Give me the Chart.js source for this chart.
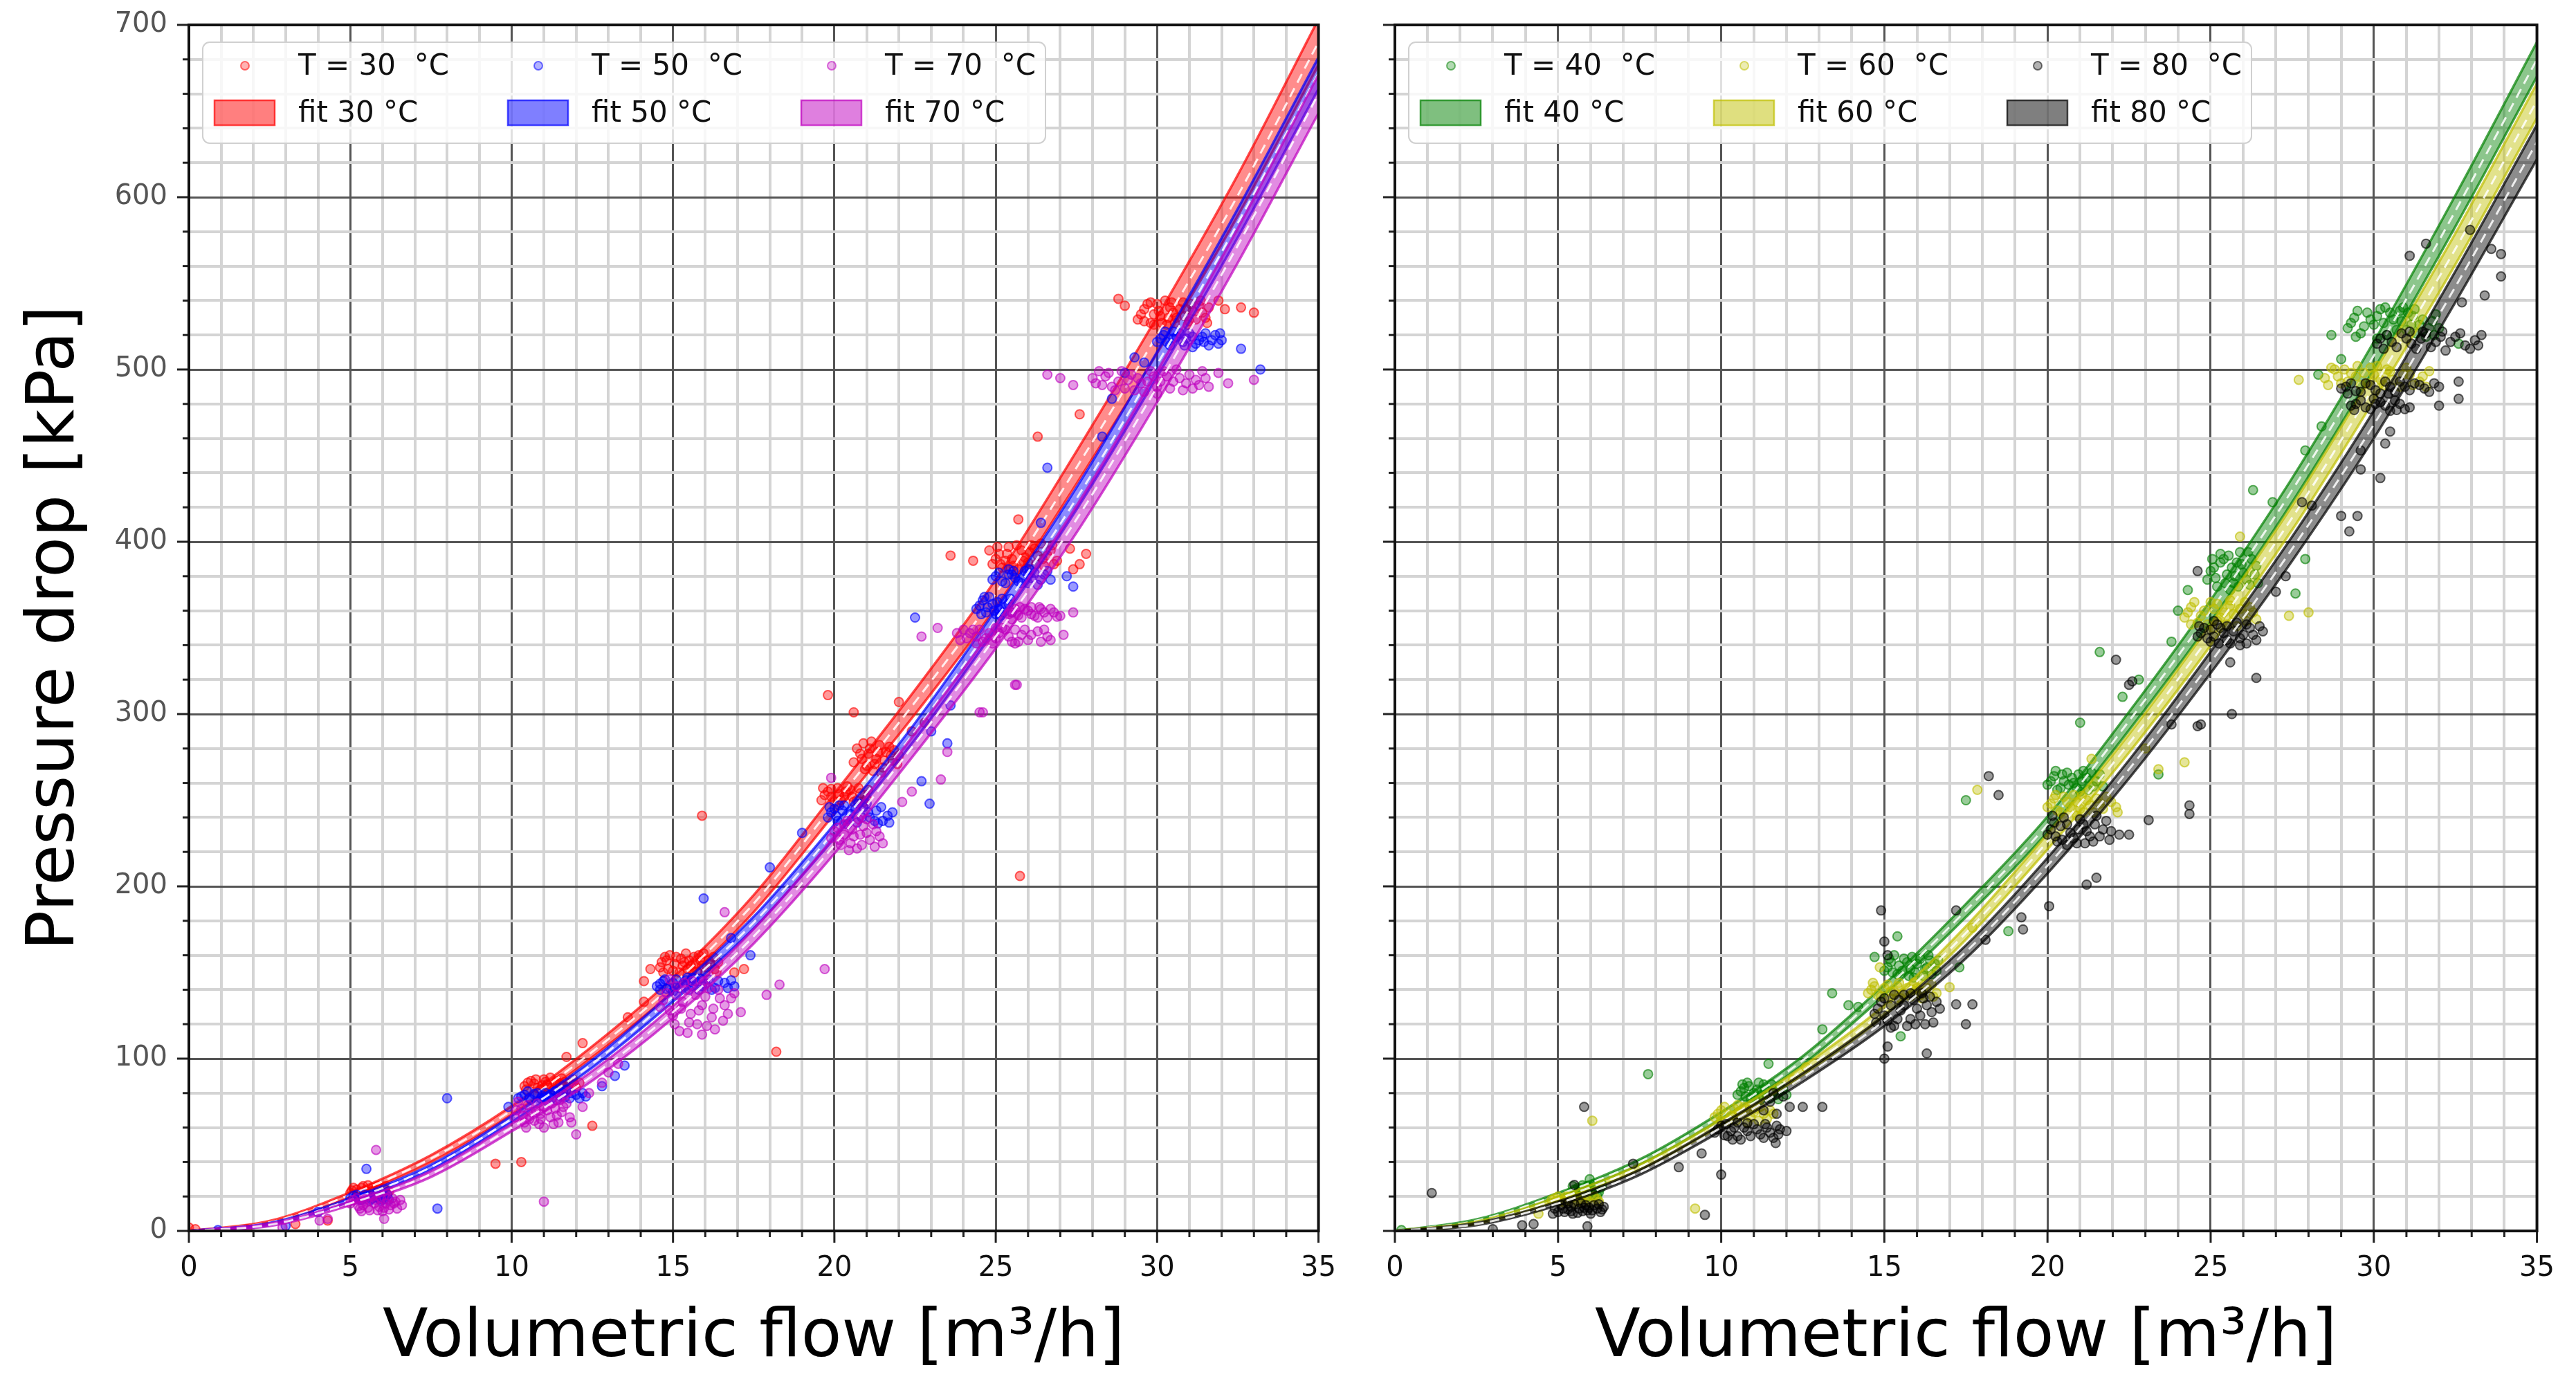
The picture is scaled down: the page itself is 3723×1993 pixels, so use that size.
<!DOCTYPE html>
<html>
<head>
<meta charset="utf-8">
<script src="https://cdn.jsdelivr.net/npm/chart.js@4.4.0/dist/chart.umd.min.js"></script>
<style>
  html, body { margin: 0; padding: 0; background: #fff; }
  #left { position: absolute; left: 0; top: 0; }
  #right { position: absolute; left: 1962px; top: 0; }
</style>
</head>
<body>
<canvas id="left" width="1962" height="1993"></canvas>
<canvas id="right" width="1761" height="1993"></canvas>
<script>
Chart.defaults.font.family = "'DejaVu Sans', sans-serif";
Chart.defaults.color = '#111';

// flow values where the fitted curves were read
const flowGrid = [0, 2.5, 5, 7.5, 10, 12.5, 15, 17.5, 20, 22.5, 25, 27.5, 30, 32.5, 35];

// fitted pressure drop [kPa] and half width of the band
const fit30 = [0, 5, 21, 42, 70, 104, 143, 190, 248, 307, 370, 443, 520, 601, 690];
const ci30  = [0, 0.8, 1.4, 2, 2.5, 3.2, 4, 4.9, 5.9, 7, 8.1, 9.4, 10.6, 11.9, 13.3];
const fit50 = [0, 4, 18, 37, 65, 97, 136, 179, 232, 290, 355, 425, 503, 585, 672];
const ci50  = [0, 0.6, 1, 1.4, 1.8, 2.2, 2.8, 3.4, 4.1, 4.8, 5.6, 6.4, 7.3, 8.3, 9.2];
const fit70 = [0, 3.5, 16, 33, 60, 90, 127, 171, 224, 283, 345, 413, 490, 572, 660];
const ci70  = [0, 0.7, 1.1, 1.7, 2.2, 2.8, 3.5, 4.2, 5, 5.9, 6.9, 7.8, 9, 10, 11.2];
const fit40 = [0, 6, 21, 40, 67, 99, 140, 186, 236, 296, 360, 430, 508, 592, 680];
const ci40  = [0, 0.7, 1.1, 1.5, 2, 2.5, 3.1, 3.8, 4.5, 5.3, 6.2, 7, 8, 9, 10];
const fit60 = [0, 4.7, 18.7, 37, 63, 93, 128, 173, 226, 283, 346, 414, 490, 570, 656];
const ci60  = [0, 0.7, 1.1, 1.5, 2, 2.5, 3.1, 3.8, 4.5, 5.3, 6.2, 7, 8, 9, 10];
const fit80 = [0, 4, 16, 34, 60, 89, 122, 162, 212, 268, 330, 396, 468, 548, 632];
const ci80  = [0, 0.7, 1.1, 1.5, 2, 2.5, 3.1, 3.8, 4.5, 5.3, 6.2, 7, 8, 9, 10];

// measured points [flow, pressure drop]
const t30 = [[0,2],[0.2,1],[1.8,1],[3.3,4],[4.3,6],
  [5.0,22],[5.2,24],[5.3,21],[5.4,26],[5.5,23],[5.6,20],[5.7,25],[5.8,22],[5.9,24],[6.0,21],[6.1,26],[5.1,25],[5.45,22],[5.65,23],[5.85,26],[6.2,23],[5.25,20.5],[5.75,21],
  [5.05,23.5],[5.35,25],[5.55,26.5],[5.95,22],[6.05,24.5],[5.15,21],[5.8,19.5],[6.15,21.5],
  [10.4,84],[10.6,87],[10.8,83],[11.0,88],[11.1,85],[11.3,82],[11.4,87],[11.6,84],[11.8,86],[12.0,83],[10.7,85.5],[11.2,89],[11.5,85.5],[11.9,88],[10.9,82],
  [10.5,86],[10.75,88],[10.95,84.5],[11.15,83],[11.35,86],[11.55,88.5],[11.75,82.5],[11.95,85],[11.05,86.5],[11.65,86.5],[10.45,82],[12.1,86],
  [9.5,39],[10.3,40],[12.5,61],[12.2,109],[11.7,101],[13.6,124],[14.1,133],[14.1,145],[14.3,152],[18.2,104],
  [14.6,153],[14.8,157],[15.0,151],[15.1,159],[15.3,154],[15.5,157],[15.6,151],[15.8,160],[15.9,154],[16.1,157],[16.3,152],[14.9,160],[15.4,161],[15.7,155],[16.0,150],[15.2,150],[16.4,156],[14.7,150],
  [14.65,156],[14.85,152],[15.05,155],[15.25,158],[15.45,152],[15.65,159],[15.85,157],[16.05,153],[16.25,159],[14.75,159],[15.35,156],[15.75,150.5],[16.15,155],[15.55,154],[15.95,161],[16.35,150.5],
  [16.9,150],[17.2,152],[15.9,241],
  [19.6,250],[19.8,255],[20.0,249],[20.1,257],[20.3,252],[20.5,256],[20.6,249],[20.8,254],[21.0,251],[19.9,252],[20.4,258],[20.7,250],
  [19.7,253],[19.9,256.5],[20.2,250],[20.35,255],[20.55,252],[20.75,257],[20.95,253],[20.15,253.5],[19.65,257],[20.9,249],[21.05,256],
  [20.6,272],[20.8,277],[21.0,270],[21.1,280],[21.3,274],[21.5,269],[21.6,278],[21.8,273],[22.0,276],[20.9,283],[21.4,282],[21.2,267],[21.7,281],
  [20.7,280],[20.85,274],[21.05,277],[21.25,271],[21.35,278],[21.55,273],[21.75,276],[21.95,271],[21.15,284],[20.95,268],[21.45,266],[21.85,279],
  [19.8,311],[20.6,301],[22.0,307],[25.75,206],[22.4,290],[22.8,295],
  [24.9,387],[25.1,393],[25.2,385],[25.4,397],[25.5,390],[25.7,384],[25.8,395],[26.0,388],[26.1,398],[26.3,392],[26.5,386],[26.7,395],[26.9,389],[25.3,389],[25.9,391],[26.4,399],[24.8,395],
  [25.0,390],[25.15,387],[25.35,393],[25.55,386],[25.65,398],[25.85,389],[26.05,394],[26.25,387],[26.45,390],[26.6,392],[26.8,387],[26.2,396],[25.45,384],[25.95,384.5],[25.05,397],[26.75,398],
  [27.3,396],[27.6,387],[27.8,393],[27.4,384],[23.6,392],[24.3,389],[25.7,413],[26.3,461],[27.6,474],
  [29.4,529],[29.6,535],[29.8,527],[30.0,538],[30.1,531],[30.3,526],[30.4,536],[30.6,530],[30.8,539],[31.0,528],[31.1,534],[31.3,537],[31.5,530],[29.9,532],[30.5,533],[30.9,535],
  [29.5,532],[29.7,538],[29.9,526],[30.05,534],[30.25,540],[30.35,530],[30.55,527],[30.7,535],[30.85,531],[31.05,538],[31.2,529],[31.4,533],[31.6,536],[29.6,528],[30.15,527],[30.95,526],[31.35,540],[29.8,539],[30.45,539],[31.55,527],
  [32.1,535],[32.6,536],[33.0,533],[31.9,540],[29.0,537],[28.8,541]];

const t50 = [[0.9,0.5],[3.0,3],[4.0,11],[5.5,36],[7.7,13],[8.0,77],
  [5.0,19],[5.2,21],[5.3,18],[5.5,20],[5.6,17.5],[5.8,21],[5.9,18.5],[6.1,20],[6.2,18],[5.4,19.5],[5.7,19],[6.0,21.5],
  [5.1,20.5],[5.35,18],[5.45,21],[5.65,18.5],[5.85,20],[6.05,18.5],[6.15,21],[5.25,19],[5.75,20.5],[5.95,17.5],
  [10.2,77],[10.4,79],[10.6,76],[10.8,80],[11.0,77.5],[11.2,79],[11.4,76],[11.6,80],[11.8,77],[12.0,79],[12.3,78],[10.5,81],[11.1,75.5],[11.7,82],
  [10.3,78],[10.55,77],[10.7,79.5],[10.9,77],[11.05,80],[11.25,77],[11.45,79.5],[11.65,77.5],[11.85,80],[12.1,77],[12.2,80],[10.95,78.5],[11.35,81],[11.55,78],
  [12.8,84],[13.2,90],[13.5,96],[9.9,72],
  [14.5,142],[14.7,145],[14.9,141],[15.1,146],[15.3,143],[15.5,140],[15.7,145],[15.9,142],[16.1,146],[16.3,141],[16.6,144],[16.9,142],[15.0,139],[15.6,147],[14.6,140],
  [14.6,143.5],[14.8,140.5],[15.0,144],[15.2,141],[15.4,145.5],[15.6,142],[15.8,140],[16.0,143.5],[16.2,140],[16.4,145],[16.7,141],[16.8,145.5],[15.45,147],[15.85,146.5],[14.75,146],
  [15.95,193],[18.0,211],[19.0,231],[17.4,160],[16.8,170],
  [19.8,240],[20.0,245],[20.1,238],[20.3,247],[20.5,242],[20.7,237],[20.9,246],[21.1,240],[21.3,244],[21.5,238],[21.8,243],[20.4,236],[21.0,248],[19.9,243],
  [19.85,246],[20.05,241],[20.25,244],[20.45,239],[20.65,245],[20.85,240],[21.05,243],[21.25,238],[21.45,246],[21.65,241],[21.7,237],[20.15,247],[20.75,248],[21.35,236.5],
  [22.95,248],[22.7,261],[23.5,283],[22.5,356],[23.0,290],[23.6,305],
  [24.9,378],[25.1,382],[25.3,376],[25.5,381],[25.7,377],[25.9,383],[26.1,379],[26.3,375],[26.5,381],[26.7,378],[25.4,384],[26.0,376],
  [25.0,380],[25.2,377],[25.4,381],[25.6,379],[25.8,376],[26.0,381],[26.2,382],[26.4,378],[26.6,383],[25.55,383],[26.05,384],
  [24.4,361],[24.6,366],[24.7,359],[24.9,364],[25.0,358],[25.2,367],[25.3,362],[25.5,359],[24.8,368],[25.1,361],
  [24.5,363],[24.55,358],[24.75,362],[24.95,360],[25.05,365],[25.25,359],[25.4,364],[25.45,367],[24.65,368],[25.15,357],
  [26.4,411],[26.6,443],[28.3,461],[28.6,483],[27.2,380],[27.4,374],
  [30.0,516],[30.2,520],[30.4,514],[30.6,519],[30.8,516],[31.0,521],[31.2,515],[31.4,519],[31.6,514],[31.8,520],[32.0,517],[30.5,522],[31.1,513],
  [30.1,518],[30.3,516],[30.5,518],[30.7,521],[30.9,518],[31.1,519],[31.3,517],[31.5,521],[31.7,517],[31.9,515],[30.25,522],[30.85,514],[31.45,516],[31.95,521],
  [29.3,507],[29.6,504],[32.6,512],[33.2,500],[29.0,498]];

const t70 = [[2.9,2],[4.05,6],[4.3,7],[5.8,47],[6.05,7],[11.0,17],
  [5.0,16],[5.2,19],[5.3,13],[5.5,17],[5.6,12],[5.8,18],[5.9,14],[6.1,16],[6.2,12.5],[6.4,17],[6.6,15],[5.4,15],[5.7,20],[6.0,11.5],[6.3,19],
  [5.1,18],[5.25,14.5],[5.45,18.5],[5.55,13.5],[5.75,16],[5.95,19],[6.05,13.5],[6.25,15],[6.45,13],[6.55,18],[5.35,11.5],[5.85,12],[6.15,18.5],[6.35,16],
  [10.1,66],[10.3,71],[10.4,63],[10.6,69],[10.8,74],[10.9,65],[11.1,70],[11.3,62],[11.4,67],[11.6,72],[11.8,66],[10.2,75],[11.0,60],[10.7,64],[11.5,76],
  [10.15,70],[10.35,67],[10.5,73],[10.55,65],[10.75,70],[10.85,62],[11.0,72],[11.2,66],[11.25,74],[11.45,63],[11.55,69],[11.7,74],[11.85,63],[10.45,60],[10.9,68],[11.35,71],
  [12.2,72],[12.4,80],[12.8,86],[13.0,92],[13.3,97],[12.0,56],
  [14.6,130],[14.8,138],[15.0,125],[15.1,142],[15.3,133],[15.5,121],[15.6,145],[15.8,128],[16.0,136],[16.2,124],[16.4,140],[16.6,131],[16.9,138],[17.1,127],[15.2,116],[15.9,114],[14.9,146],[16.3,117],
  [14.7,134],[14.9,128],[15.1,137],[15.25,129],[15.4,140],[15.55,126],[15.7,137],[15.9,131],[16.1,141],[16.25,129],[16.45,135],[16.7,126],[16.8,135],[15.05,120],[15.45,115],[15.75,120],[16.05,119],[16.55,122],[15.35,144],[15.95,145],
  [17.9,137],[19.7,152],[16.6,185],[18.3,143],
  [19.9,228],[20.1,234],[20.2,224],[20.4,238],[20.6,229],[20.7,222],[20.9,235],[21.1,227],[21.3,232],[21.5,225],[20.3,230],[21.0,239],
  [20.0,232],[20.15,227],[20.3,236],[20.5,225],[20.55,233],[20.8,230],[20.85,224],[21.0,231],[21.2,236],[21.25,223],[21.4,229],[20.45,221],[20.75,239],
  [19.9,263],[23.3,262],[23.5,278],[24.6,301],[25.65,317],[22.1,249],[22.4,255],
  [25.4,358],[25.6,361],[25.8,356],[26.0,360],[26.2,357],[26.4,361],[26.6,356],[26.8,359],[27.0,357],[25.5,355],[26.1,362],
  [25.5,359],[25.7,357.5],[25.9,361],[26.1,358],[26.3,356],[26.5,359],[26.7,361],[26.9,356.5],[25.75,362],[26.35,362],
  [23.8,347],[24.1,344],[24.3,349],[24.6,342],[24.8,347],[25.0,344],[25.3,349],[25.5,342],[25.8,346],[26.0,343],[26.3,348],[26.6,345],[24.4,341],[25.2,350],
  [23.9,343],[24.2,347],[24.4,345],[24.5,349],[24.7,344],[24.9,341],[25.1,347],[25.4,345],[25.6,349],[25.7,342],[25.9,349],[26.1,346],[26.4,342],[26.5,349],[26.7,343],[24.0,349],[25.0,350],[25.6,341],
  [22.7,345],[23.2,350],[27.4,359],[27.1,346],[25.6,317],[24.5,301],
  [28.0,495],[28.3,491],[28.5,498],[28.8,493],[29.0,489],[29.2,497],[29.5,492],[29.8,499],[30.0,490],[30.3,496],[30.5,493],[30.8,488],[31.0,497],[31.3,491],[31.5,495],[29.6,487],[30.6,500],
  [28.1,492],[28.4,496],[28.6,490],[28.9,499],[29.1,494],[29.3,488],[29.4,495],[29.7,493],[29.9,496],[30.1,493],[30.2,499],[30.4,489],[30.7,495],[30.9,492],[31.1,489],[31.2,494],[31.4,499],[28.2,499],[28.7,488],[30.0,486],[31.6,490],
  [27.0,495],[26.6,497],[27.4,491],[33.0,494],[32.2,492],[31.9,498]];

const t40 = [[0.2,0.5],[5.97,30],[7.76,91],
  [5.4,22],[5.6,25],[5.7,21],[5.9,26],[6.0,23],[6.2,20.5],[6.3,25],[5.5,24],[5.8,22.5],[6.1,27],[5.9,20],
  [5.5,21],[5.65,23],[5.75,26.5],[5.85,24],[6.05,21],[6.15,24],[6.25,22.5],[6.35,27],[5.45,26],[5.95,25],
  [10.5,79],[10.7,83],[10.9,77],[11.1,82],[11.3,85],[11.4,78],[11.6,81],[11.8,84],[12.0,79],[11.2,76],[10.8,86],
  [10.6,81],[10.75,78],[10.85,84],[11.0,80],[11.15,86],[11.25,79],[11.35,82],[11.5,77],[11.55,85],[11.7,79],[11.9,82],[10.65,85],[11.05,77],[11.75,76.5],
  [11.45,97],[13.1,117],[13.4,138],[13.9,131],[14.7,159],[15.4,171],[15.5,113],[14.2,130],
  [15.0,151],[15.2,156],[15.4,149],[15.6,158],[15.8,152],[16.0,155],[16.2,148],[16.4,157],[16.6,151],[15.3,160],[15.9,147],[16.3,153],
  [15.1,153],[15.25,150],[15.45,154],[15.55,151],[15.7,156],[15.85,159],[15.95,150],[16.1,158],[16.25,152],[16.45,149],[16.55,155],[15.15,158],[15.75,148],[16.35,160],[16.65,157],
  [17.3,153],[17.5,250],[18.8,174],
  [20.0,259],[20.2,264],[20.4,257],[20.6,266],[20.8,260],[21.0,255],[21.2,263],[21.4,258],[21.6,265],[20.5,261],[21.1,267],
  [20.1,261],[20.3,256],[20.45,265],[20.65,259],[20.75,263],[20.9,257],[21.05,261],[21.25,256],[21.35,266],[21.5,261],[21.7,258],[20.25,267],[20.95,265],
  [21.0,295],[21.6,336],[23.4,265],[23.8,342],[22.3,310],[22.8,320],
  [24.9,378],[25.1,385],[25.2,374],[25.4,390],[25.5,381],[25.7,376],[25.8,388],[26.0,382],[26.2,375],[26.4,386],[25.3,393],[25.9,394],[25.6,372],
  [25.0,383],[25.15,379],[25.3,388],[25.45,376],[25.55,392],[25.65,385],[25.75,380],[25.95,387],[26.1,378],[26.25,390],[26.35,381],[25.05,390],[25.85,374],[26.15,394],[26.45,376],
  [24.3,372],[26.3,430],[26.9,423],[27.9,453],[28.4,467],[27.9,390],[27.6,370],[24.0,360],
  [29.2,524],[29.4,530],[29.6,521],[29.8,533],[30.0,526],[30.2,535],[30.4,520],[30.6,529],[30.8,534],[31.0,523],[31.2,531],[31.4,526],[31.6,519],[31.8,528],[32.0,524],[30.1,518],[30.9,536],
  [29.3,527],[29.5,534],[29.7,525],[29.9,529],[30.1,531],[30.3,527],[30.5,533],[30.7,523],[30.85,528],[31.05,533],[31.15,526],[31.3,521],[31.5,529],[31.7,524],[31.9,532],[29.45,519],[30.35,536],[31.25,535],[31.85,520],
  [28.7,520],[29.0,506],[28.3,497],[32.6,515]];

const t60 = [[4.4,10],[9.2,13],[6.05,64],
  [4.8,18],[5.0,20],[5.2,16.5],[5.4,19],[5.6,17],[5.8,20.5],[6.0,16],[6.2,18.5],[5.1,17.5],[5.7,18.5],
  [4.9,19],[5.05,17],[5.3,18],[5.45,16],[5.55,20],[5.75,16.5],[5.9,18],[6.1,20],[6.25,17],[5.25,20],
  [9.8,66],[10.0,70],[10.2,64],[10.4,71],[10.6,67],[10.8,63],[11.0,69],[11.2,72],[11.4,65],[11.6,68],[10.5,73],
  [9.9,68],[10.1,72],[10.3,67],[10.45,64],[10.55,69],[10.7,72],[10.9,66],[11.05,71],[11.15,64],[11.3,68],[11.5,70],[10.0,64],[10.85,70.5],
  [12.2,88],[12.6,95],
  [14.5,138],[14.7,142],[14.9,136],[15.1,143],[15.3,139],[15.5,135],[15.7,141],[15.9,144],[16.1,137],[16.3,141],[16.6,138],[15.2,135],
  [14.6,140],[14.8,137],[15.0,141],[15.2,139],[15.4,142],[15.6,138],[15.8,136],[16.0,141],[16.2,139],[16.45,143],[16.5,136],[14.65,144],[15.45,144],[15.85,140],[16.15,135],
  [14.86,153],[17.0,141.5],[17.7,176],[17.85,256],
  [20.0,246],[20.2,251],[20.4,243],[20.6,249],[20.8,253],[21.0,245],[21.2,250],[21.4,243],[21.6,248],[21.8,252],[22.1,246],[20.9,241],
  [20.1,248],[20.3,244],[20.5,252],[20.7,246],[20.9,249],[21.1,243],[21.3,247],[21.5,251],[21.7,245],[21.95,249],[22.15,243],[20.25,253],[21.05,252.5],
  [21.35,274],[23.4,268],[24.2,272],[23.0,280],
  [24.2,356],[24.4,362],[24.6,353],[24.8,360],[25.0,365],[25.2,354],[25.4,359],[25.6,363],[25.8,351],[26.0,358],[26.2,362],[26.4,355],[25.1,350],
  [24.3,359],[24.5,365],[24.7,357],[24.9,352],[25.1,361],[25.3,356],[25.5,352],[25.7,358],[25.9,361],[26.1,354],[26.3,359],[24.4,352],[25.2,364],[26.05,365],[25.6,366],
  [25.9,403],[27.4,357],[28.0,359],[27.7,494],
  [28.5,495],[28.8,500],[29.0,492],[29.3,498],[29.6,491],[29.9,501],[30.2,494],[30.5,499],[30.8,490],[31.1,497],[31.4,493],[31.7,499],[29.5,502],
  [28.6,491],[28.9,496],[29.1,500],[29.2,493],[29.45,496],[29.7,498],[29.8,492],[30.0,497],[30.3,491],[30.4,500],[30.6,494],[30.9,497],[31.0,501],[31.2,491],[31.5,496],[31.6,490],[28.7,501],[30.1,502]];

const t80 = [[1.13,22],[3.0,1],[3.9,3.3],[4.25,4],[5.9,2.7],[4.84,10],[5.5,26.7],[5.8,72],[7.3,39],[8.7,37],[9.4,45],[9.5,9.3],[10.0,32.7],
  [4.9,13],[5.1,15],[5.2,11],[5.4,14],[5.6,10.5],[5.7,16],[5.9,12],[6.1,15],[6.3,11],[5.3,16],[5.8,13.5],[6.0,10],[6.4,14],
  [5.0,11],[5.15,13],[5.3,12.5],[5.45,10],[5.5,15.5],[5.65,13],[5.75,11.5],[5.85,15],[5.95,13.5],[6.05,12],[6.2,13],[6.25,15.5],[6.35,12.5],[5.4,11.5],
  [9.8,57],[10.0,61],[10.2,55],[10.4,60],[10.6,53],[10.8,58],[11.0,62],[11.2,56],[11.4,60],[11.6,54],[11.8,59],[10.5,63],
  [9.9,59],[10.1,55.5],[10.3,58],[10.5,55],[10.7,60],[10.9,55],[11.1,59],[11.3,54],[11.5,57],[11.7,61],[11.75,56],[10.15,62],[10.8,62.5],[11.35,62],[10.35,53],
  [11.3,70],[11.5,75],[11.7,68],[11.9,78],[12.1,72],[11.6,80],
  [11.67,51],[12.0,58],[13.1,72],[12.5,72],[15.0,100],[15.1,107],[16.3,103],[14.9,186],[15.0,168],[15.1,160],
  [14.7,126],[14.9,133],[15.1,122],[15.3,137],[15.5,128],[15.7,119],[15.9,134],[16.1,125],[16.3,131],[16.5,121],[16.7,129],[15.2,118],[15.8,138],[16.4,136],
  [14.8,129],[15.0,135],[15.0,125],[15.2,131],[15.4,123],[15.45,134],[15.6,131],[15.8,123],[16.0,129],[16.2,135],[16.25,120],[16.45,127],[16.6,133],[15.6,137],[15.95,120],[15.3,119],[14.75,121],[16.15,138],
  [17.2,131.5],[17.7,131.5],[17.5,120],[17.2,186],[18.1,169],[19.2,182],[19.25,175],[20.05,188.5],[18.2,264],[18.5,253],
  [20.0,230],[20.2,237],[20.3,226],[20.5,240],[20.7,231],[20.9,225],[21.1,236],[21.3,229],[21.5,241],[21.7,233],[21.9,227],[20.6,224],
  [20.1,233],[20.25,229],[20.4,235],[20.45,227],[20.6,236],[20.8,228],[20.95,233],[21.0,239],[21.2,232],[21.4,226],[21.45,236],[21.6,229],[21.8,238],[21.95,232],[20.15,241],[21.15,225],
  [21.2,201],[21.5,205],[22.2,230],[22.5,230],[23.1,238.5],[24.35,247],[24.35,242],[22.1,331.5],[22.5,317],[24.6,293],[22.6,319],[23.8,294],[24.7,294],[25.65,300],[26.4,321],[25.6,330],
  [24.6,345],[24.8,350],[25.0,342],[25.2,352],[25.4,347],[25.6,341],[25.8,353],[26.0,346],[26.2,350],[26.4,343],[26.6,348],[25.1,354],[25.9,340],
  [24.7,347],[24.9,344],[25.0,349],[25.1,345],[25.3,350],[25.5,343],[25.5,351],[25.7,348],[25.9,344],[26.1,352],[26.3,346],[26.5,351],[24.65,351],[25.25,341],[26.1,341],
  [24.6,383],[27.0,371],[27.3,380],[27.8,423],[28.1,421],[29.0,415],[29.5,415],[29.25,406],
  [30.1,515],[30.4,520],[30.7,513],[31.0,518],[31.3,512],[31.6,521],[31.9,516],[32.2,511],[32.5,519],[32.8,514],[33.1,517],[31.1,522],
  [30.2,518],[30.55,516],[30.85,521],[31.15,515],[31.45,518],[31.75,513],[32.05,519],[32.35,516],[32.65,521],[32.95,512],[30.3,512],[31.5,522],[32.1,522],[33.2,514],
  [29.0,489],[29.3,492],[29.6,487],[29.9,491],[30.2,486],[30.5,490],[30.8,493],[31.1,488],[31.4,491],[31.7,487],[32.0,490],
  [29.15,490],[29.45,487.5],[29.75,492],[30.05,488],[30.35,493],[30.65,487],[30.95,490],[31.25,492],[31.55,489],[31.85,492],[29.2,486],[30.45,486],
  [29.3,479],[29.6,482],[29.9,477],[30.2,481],[30.5,476],[30.8,480],[31.1,478],[30.0,483],
  [29.45,480],[29.75,478],[30.05,480],[30.35,479],[30.65,482],[30.95,477],[29.4,476.5],[30.7,476.5],
  [31.1,566],[31.6,573],[32.95,581],[33.6,570],[33.9,567],[33.9,554],[33.4,543],[32.7,539],[33.3,520],[32.6,493],[32.6,483],[32.0,479],[30.5,464],[30.35,457],[30.2,437],[29.6,453],[29.6,442]];

const RED = [255, 0, 0], BLUE = [0, 0, 255], MAGENTA = [191, 0, 191];
const GREEN = [0, 128, 0], YELLOW = [191, 191, 0], BLACK = [0, 0, 0];

const rgba = (c, a) => `rgba(${c[0]},${c[1]},${c[2]},${a})`;
const pts = arr => arr.map(([x, y]) => ({x, y}));

function scatterSet(label, c, data, order) {
  return {
    label, data: pts(data), order, legendRow: 0, rgb: c,
    pointRadius: 6.5, pointBorderWidth: 2,
    backgroundColor: rgba(c, 0.4), borderColor: rgba(c, 0.62)
  };
}

function fitSets(label, c, fit, ci, order) {
  const up = flowGrid.map((q, i) => ({x: q, y: fit[i] + ci[i]}));
  const lo = flowGrid.map((q, i) => ({x: q, y: fit[i] - ci[i]}));
  const mid = flowGrid.map((q, i) => ({x: q, y: fit[i]}));
  const line = {type: 'line', pointRadius: 0, showLine: true, cubicInterpolationMode: 'monotone'};
  return [
    {...line, label, data: up, order, legendRow: 1, rgb: c,
      borderColor: rgba(c, 0.7), borderWidth: 3.5, backgroundColor: rgba(c, 0.5), fill: false},
    {...line, data: lo, order,
      borderColor: rgba(c, 0.7), borderWidth: 3.5, backgroundColor: rgba(c, 0.45), fill: '-1'},
    {...line, data: mid, order: order - 0.5,
      borderColor: 'rgba(255,255,255,0.85)', borderWidth: 3, borderDash: [14, 9], fill: false}
  ];
}

// outer frame and tick marks (long on the major ticks, short on the minor ones)
const frame = {
  id: 'frame',
  afterDraw(chart) {
    const {ctx, chartArea: a, scales: {x, y}} = chart;
    ctx.save();
    ctx.strokeStyle = '#222';
    ctx.lineWidth = 3;
    x.ticks.forEach(t => {
      const px = x.getPixelForValue(t.value);
      const len = t.value % 5 === 0 ? 17 : 9;
      ctx.beginPath(); ctx.moveTo(px, a.bottom); ctx.lineTo(px, a.bottom + len); ctx.stroke();
    });
    y.ticks.forEach(t => {
      const py = y.getPixelForValue(t.value);
      const len = t.value % 100 === 0 ? 17 : 9;
      ctx.beginPath(); ctx.moveTo(a.left, py); ctx.lineTo(a.left - len, py); ctx.stroke();
    });
    ctx.lineWidth = 4;
    ctx.strokeStyle = '#111';
    ctx.strokeRect(a.left, a.top, a.right - a.left, a.bottom - a.top);
    ctx.restore();
  }
};

// legend box inside the plot, 3 columns x 2 rows
const boxLegend = {
  id: 'boxLegend',
  afterDraw(chart) {
    const {ctx, chartArea: a} = chart;
    const x0 = a.left + 20, y0 = a.top + 25, w = 1218, h = 146;
    ctx.save();
    ctx.beginPath();
    if (ctx.roundRect) ctx.roundRect(x0, y0, w, h, 10); else ctx.rect(x0, y0, w, h);
    ctx.fillStyle = 'rgba(255,255,255,0.82)';
    ctx.fill();
    ctx.strokeStyle = '#d0d0d0';
    ctx.lineWidth = 2;
    ctx.stroke();
    ctx.font = "42px 'DejaVu Sans'";
    ctx.textBaseline = 'middle';
    const cols = [0, 0];
    chart.data.datasets.forEach(d => {
      if (d.legendRow === undefined) return;
      const row = d.legendRow, col = cols[row]++;
      const cx = x0 + col * 424, cy = y0 + (row ? 102 : 34);
      if (row === 0) {
        ctx.beginPath();
        ctx.arc(cx + 61, cy, 6, 0, Math.PI * 2);
        ctx.fillStyle = rgba(d.rgb, 0.3); ctx.fill();
        ctx.strokeStyle = rgba(d.rgb, 0.55); ctx.lineWidth = 2; ctx.stroke();
      } else {
        ctx.fillStyle = rgba(d.rgb, 0.5);
        ctx.fillRect(cx + 17, cy - 18, 87, 36);
        ctx.strokeStyle = rgba(d.rgb, 0.7); ctx.lineWidth = 2.5;
        ctx.strokeRect(cx + 17, cy - 18, 87, 36);
      }
      ctx.fillStyle = '#111';
      ctx.fillText(d.label, cx + 138, cy + 2);
    });
    ctx.restore();
  }
};

function makeScales(showY) {
  const majorX = c => c.tick && c.tick.value % 5 === 0;
  const majorY = c => c.tick && c.tick.value % 100 === 0;
  return {
    x: {
      type: 'linear', min: 0, max: 35,
      border: {display: false},
      grid: {color: c => majorX(c) ? '#555' : '#d4d4d4', lineWidth: c => majorX(c) ? 3 : 4, drawTicks: false},
      ticks: {stepSize: 1, maxTicksLimit: 100, autoSkip: false, maxRotation: 0, padding: 31,
        font: {size: 40}, color: '#111', callback: v => v % 5 === 0 ? v : ''},
      title: {display: true, text: 'Volumetric flow [m³/h]', font: {size: 96}, color: '#000', padding: 0},
      afterFit: s => { s.height = 214; }
    },
    y: {
      type: 'linear', min: 0, max: 700,
      border: {display: false},
      // invisible tick length keeps the labels clear of the drawn ticks
      grid: {color: c => majorY(c) ? '#555' : '#d4d4d4', lineWidth: c => majorY(c) ? 3 : 4,
        drawTicks: true, tickLength: 21, tickColor: 'rgba(0,0,0,0)'},
      ticks: {display: showY, stepSize: 20, maxTicksLimit: 100, autoSkip: false, padding: 10,
        font: {size: 40}, color: '#555', callback: v => v % 100 === 0 ? v : ''},
      title: {display: showY, text: 'Pressure drop [kPa]', font: {size: 96}, color: '#000', padding: {top: 23, bottom: 0}},
      afterFit: s => { s.width = showY ? 273 : 54; }
    }
  };
}

function makeChart(id, datasets, showY, padRight) {
  return new Chart(document.getElementById(id), {
    type: 'scatter',
    data: {datasets},
    options: {
      responsive: false,
      animation: false,
      devicePixelRatio: 1,
      events: [],
      layout: {padding: {top: 36, right: padRight, left: 0, bottom: 0}},
      scales: makeScales(showY),
      plugins: {legend: {display: false}, tooltip: {enabled: false}}
    },
    plugins: [frame, boxLegend]
  });
}

makeChart('left', [
  scatterSet('T = 30  °C', RED, t30, 6),
  ...fitSets('fit 30 °C', RED, fit30, ci30, 5),
  scatterSet('T = 50  °C', BLUE, t50, 4),
  ...fitSets('fit 50 °C', BLUE, fit50, ci50, 3),
  scatterSet('T = 70  °C', MAGENTA, t70, 2),
  ...fitSets('fit 70 °C', MAGENTA, fit70, ci70, 1)
], true, 26);

makeChart('right', [
  scatterSet('T = 40  °C', GREEN, t40, 6),
  ...fitSets('fit 40 °C', GREEN, fit40, ci40, 5),
  scatterSet('T = 60  °C', YELLOW, t60, 4),
  ...fitSets('fit 60 °C', YELLOW, fit60, ci60, 3),
  scatterSet('T = 80  °C', BLACK, t80, 2),
  ...fitSets('fit 80 °C', BLACK, fit80, ci80, 1)
], false, 46);
</script>
</body>
</html>
